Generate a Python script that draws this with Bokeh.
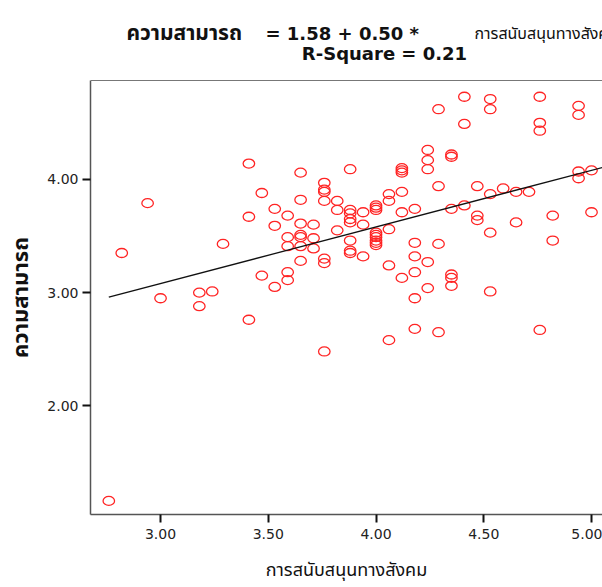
from bokeh.plotting import figure
from bokeh.models import FixedTicker, PrintfTickFormatter, Range1d, ColumnDataSource, Span
from bokeh.core.properties import value
from bokeh.embed import file_html
from bokeh.resources import INLINE

# ---- data ------------------------------------------------------------
support = [2.76, 2.82, 2.94, 3.00, 3.18, 3.18, 3.24, 3.29,
           3.41, 3.41, 3.41, 3.47, 3.47, 3.53, 3.53, 3.53,
           3.59, 3.59, 3.59, 3.59, 3.59,
           3.65, 3.65, 3.65, 3.65, 3.65, 3.65, 3.65,
           3.71, 3.71, 3.71,
           3.76, 3.76, 3.76, 3.76, 3.76, 3.76, 3.76,
           3.82, 3.82, 3.82,
           3.88, 3.88, 3.88, 3.88, 3.88, 3.88, 3.88, 3.88,
           3.94, 3.94, 3.94,
           4.00, 4.00, 4.00, 4.00, 4.00, 4.00, 4.00, 4.00, 4.00,
           4.06, 4.06, 4.06, 4.06, 4.06,
           4.12, 4.12, 4.12, 4.12, 4.12, 4.12,
           4.18, 4.18, 4.18, 4.18, 4.18, 4.18,
           4.24, 4.24, 4.24, 4.24, 4.24,
           4.29, 4.29, 4.29, 4.29,
           4.35, 4.35, 4.35, 4.35, 4.35, 4.35,
           4.41, 4.41, 4.41,
           4.47, 4.47, 4.47,
           4.53, 4.53, 4.53, 4.53, 4.53,
           4.59, 4.65, 4.65, 4.71,
           4.76, 4.76, 4.76, 4.76,
           4.82, 4.82,
           4.94, 4.94, 4.94, 4.94,
           5.00, 5.00]
ability = [1.16, 3.35, 3.79, 2.95, 3.00, 2.88, 3.01, 3.43,
           4.14, 3.67, 2.76, 3.88, 3.15, 3.74, 3.59, 3.05,
           3.68, 3.49, 3.41, 3.18, 3.11,
           4.06, 3.82, 3.61, 3.51, 3.49, 3.41, 3.28,
           3.60, 3.48, 3.39,
           3.97, 3.91, 3.89, 3.81, 3.30, 3.26, 2.48,
           3.81, 3.73, 3.55,
           4.09, 3.73, 3.70, 3.65, 3.62, 3.46, 3.37, 3.35,
           3.71, 3.60, 3.32,
           3.77, 3.75, 3.73, 3.53, 3.51, 3.49, 3.46, 3.44, 3.42,
           3.87, 3.81, 3.56, 3.24, 2.58,
           4.10, 4.08, 4.06, 3.89, 3.71, 3.13,
           3.74, 3.44, 3.32, 3.18, 2.95, 2.68,
           4.26, 4.17, 4.09, 3.27, 3.04,
           4.62, 3.94, 3.43, 2.65,
           4.22, 4.20, 3.74, 3.16, 3.13, 3.06,
           4.73, 4.49, 3.77,
           3.94, 3.68, 3.64,
           4.71, 4.62, 3.87, 3.53, 3.01,
           3.92, 3.89, 3.62, 3.89,
           4.73, 4.50, 4.43, 2.67,
           3.68, 3.46,
           4.65, 4.57, 4.07, 4.01,
           4.08, 3.71]

intercept = 1.58
slope = 0.50
r_square = 0.21

x_ticks = [3.0, 3.5, 4.0, 4.5, 5.0]
y_ticks = [2.0, 3.0, 4.0]
x_title = "การสนับสนุนทางสังคม"
y_title = "ความสามารถ"
eq_left = "ความสามารถ"
eq_mid = "= %.2f + %.2f *" % (intercept, slope)
eq_right = "การสนับสนุนทางสังคม"
r2_text = "R-Square = %.2f" % r_square

THAI = "Noto Sans Thai, Noto Sans, DejaVu Sans, sans-serif"
LATIN = "DejaVu Sans"

# ---- geometry ----------------------------------------------------------
W, H = 602, 587
LEFT, BOTTOM = 90, 73
PLOT_TOP = 80                        # canvas y of the plot box top border
X0, X1 = 2.675, 5.051                # x window of the plot box
ppx = (W - LEFT) / (X1 - X0)         # pixels per x unit
ppy = 113.2                          # pixels per y unit
Y_AT_2 = 405.3                       # canvas y of the value 2.00
FB = H - BOTTOM                      # canvas y of frame bottom
Y0 = 2.0 - (FB - Y_AT_2) / ppy
Y_TOP = 2.0 + Y_AT_2 / ppy           # frame reaches the canvas top (header area)
Y1 = 2.0 + (Y_AT_2 - PLOT_TOP) / ppy # plot box top

def px_to_x(px):
    return X0 + (px - LEFT) / ppx

def py_to_y(py):
    return 2.0 + (Y_AT_2 - py) / ppy

p = figure(width=W, height=H, output_backend="svg", toolbar_location=None,
           x_range=Range1d(X0, X1), y_range=Range1d(Y0, Y_TOP),
           min_border_left=LEFT, min_border_right=0,
           min_border_top=0, min_border_bottom=BOTTOM,
           background_fill_color="white", border_fill_color="white")
p.grid.visible = False
p.outline_line_color = None

for ax in (p.xaxis[0], p.yaxis[0]):
    ax.formatter = PrintfTickFormatter(format="%.2f")
    ax.axis_line_color = "#555555"
    ax.axis_line_width = 1.5
    ax.major_tick_line_color = "#111111"
    ax.major_tick_line_width = 2
    ax.major_tick_in = 0
    ax.major_tick_out = 8
    ax.minor_tick_line_color = None
    ax.major_label_text_font = LATIN
    ax.major_label_text_font_size = "14px"
    ax.major_label_text_color = "#222222"
    ax.axis_label_text_font = THAI
    ax.axis_label_text_color = "#111111"

p.xaxis[0].ticker = FixedTicker(ticks=x_ticks)
p.yaxis[0].ticker = FixedTicker(ticks=y_ticks)
p.yaxis[0].bounds = (Y0, Y1)
p.xaxis[0].axis_label = x_title
p.xaxis[0].axis_label_text_font_size = "18px"
p.xaxis[0].axis_label_text_font_style = "normal"
p.xaxis[0].axis_label_standoff = 15
p.xaxis[0].major_label_standoff = 6
# the axis label is centred on the whole (taller) frame; trailing no-break
# spaces move the visible word down to the middle of the plot box
p.yaxis[0].axis_label = y_title + "\u00a0" * 14
p.yaxis[0].axis_label_text_font_size = "22px"
p.yaxis[0].axis_label_text_font_style = "bold"
p.yaxis[0].axis_label_standoff = 6
p.yaxis[0].major_label_standoff = 4

# top border of the plot box
p.add_layout(Span(location=Y1, dimension="width", line_color="#777777", line_width=1.2))

# points
src = ColumnDataSource(dict(x=support, y=ability))
p.ellipse(x="x", y="y", width=11.5, height=9, width_units="screen", height_units="screen",
          source=src, fill_color=None, line_color="#ff2424", line_width=1.3)

# fit line
fit_x = [min(support), X1]
fit_y = [intercept + slope * v for v in fit_x]
p.line(fit_x, fit_y, line_color="#111111", line_width=1.3)

# header texts (placed by canvas pixel position)
def txt(text, px, py, font, style, size, align="left"):
    p.text(x=[px_to_x(px)], y=[py_to_y(py)], text=[text], text_font=value(font),
           text_font_style=style, text_font_size=size,
           text_align=align, text_baseline="alphabetic", text_color="#111111")

txt(eq_left, 126, 33, THAI, "bold", "21px")
txt(eq_mid, 265, 33, LATIN, "bold", "18px")
txt(eq_right, 474, 33, THAI, "normal", "16px")
txt(r2_text, 384, 53, LATIN, "bold", "18px", align="center")

open("out.html", "w").write(file_html(p, INLINE))
